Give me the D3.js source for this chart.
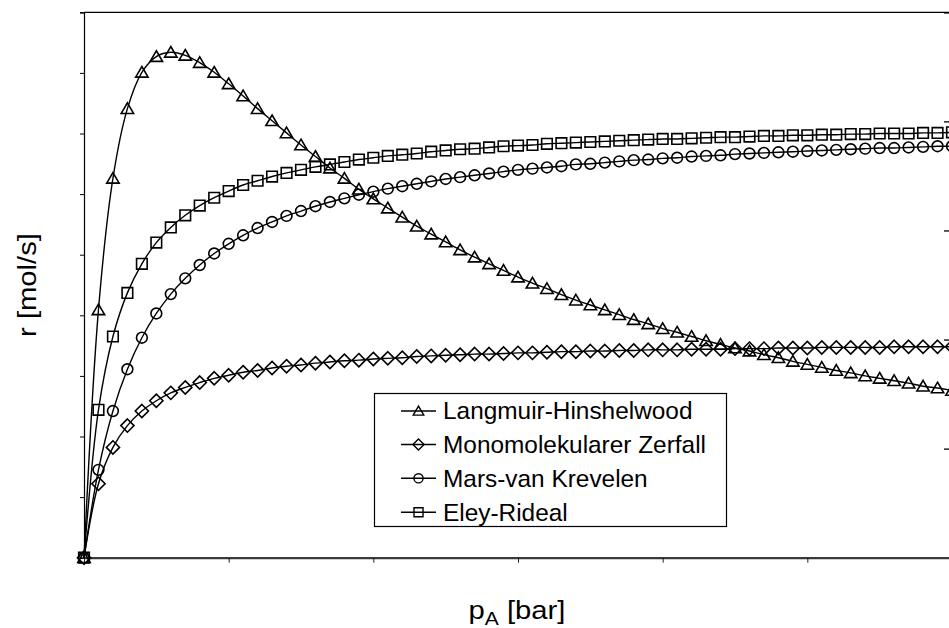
<!DOCTYPE html>
<html><head><meta charset="utf-8">
<script src="https://cdn.jsdelivr.net/npm/d3@7"></script>
<style>html,body{margin:0;padding:0;background:#fff;overflow:hidden}</style>
</head><body><svg id="c" width="949" height="628"></svg>
<script>
const pA = [0,1,2,3,4,5,6,7,8,9,10,11,12,13,14,15,16,17,18,19,20,21,22,23,24,25,26,27,28,29,30,31,32,33,34,35,36,37,38,39,40,41,42,43,44,45,46,47,48,49,50,51,52,53,54,55,56,57,58,59,60];
const langmuirHinshelwood = [0,4.09,6.26,7.41,8.01,8.27,8.34,8.29,8.17,8.01,7.82,7.62,7.41,7.21,7.01,6.81,6.62,6.43,6.26,6.08,5.92,5.77,5.62,5.47,5.34,5.21,5.08,4.96,4.85,4.74,4.63,4.53,4.44,4.34,4.25,4.17,4.09,4.01,3.93,3.86,3.78,3.72,3.65,3.58,3.52,3.46,3.41,3.35,3.30,3.24,3.19,3.14,3.09,3.05,3.00,2.96,2.92,2.88,2.83,2.80,2.76];
const monomolekularerZerfall = [0,1.22,1.82,2.18,2.42,2.59,2.72,2.81,2.89,2.96,3.01,3.06,3.09,3.13,3.16,3.18,3.21,3.23,3.25,3.26,3.28,3.29,3.30,3.32,3.33,3.34,3.35,3.36,3.36,3.37,3.38,3.38,3.39,3.40,3.40,3.41,3.41,3.42,3.42,3.43,3.43,3.43,3.44,3.44,3.44,3.45,3.45,3.45,3.46,3.46,3.46,3.47,3.47,3.47,3.47,3.47,3.48,3.48,3.48,3.48,3.48];
const marsVanKrevelen = [0,1.45,2.42,3.11,3.63,4.03,4.35,4.61,4.83,5.02,5.18,5.32,5.44,5.54,5.64,5.72,5.80,5.87,5.93,5.99,6.04,6.09,6.13,6.17,6.21,6.25,6.28,6.31,6.34,6.37,6.40,6.42,6.44,6.46,6.49,6.50,6.52,6.54,6.56,6.57,6.59,6.60,6.62,6.63,6.64,6.66,6.67,6.68,6.69,6.70,6.71,6.72,6.73,6.74,6.75,6.76,6.76,6.77,6.78,6.79,6.79];
const eleyRideal = [0,2.44,3.65,4.37,4.85,5.20,5.45,5.65,5.81,5.94,6.05,6.15,6.22,6.29,6.35,6.40,6.45,6.49,6.53,6.57,6.60,6.63,6.65,6.67,6.70,6.72,6.74,6.75,6.77,6.79,6.80,6.81,6.83,6.84,6.85,6.86,6.87,6.88,6.89,6.90,6.91,6.91,6.92,6.93,6.94,6.94,6.95,6.96,6.96,6.97,6.97,6.98,6.98,6.99,6.99,7.00,7.00,7.00,7.01,7.01,7.02];
const seriesNames = ["Langmuir-Hinshelwood","Monomolekularer Zerfall","Mars-van Krevelen","Eley-Rideal"];
const seriesMarkers = ["triangle","diamond","circle","square"];
const xTicks = [0,10,20,30,40,50,60];
const yTicks = [0,1,2,3,4,5,6,7,8,9];
const y2Ticks = [0,1,2,3,4,5];
const yTitle = "r [mol/s]";
const xTitleMain = "p", xTitleSub = "A", xTitleRest = " [bar]";

const FONT = "'Liberation Sans', Arial, Helvetica, sans-serif";
const svg = d3.select("#c");
const L = 84, R = 952, T = 12.3, B = 557.7;
const x = d3.scaleLinear().domain([0,60]).range([L,R]);
const y = d3.scaleLinear().domain([0,9]).range([B,T]);
const y2 = d3.scaleLinear().domain([0,5]).range([B,T]);

// top border
svg.append("line").attr("x1",L).attr("x2",R).attr("y1",T).attr("y2",T)
  .attr("stroke","#000").attr("stroke-width",1.2);

// left axis
const gl = svg.append("g").attr("transform",`translate(${L},0)`)
  .call(d3.axisLeft(y).tickValues(yTicks).tickSize(4).tickFormat(""));
gl.select(".domain").attr("stroke","#000").attr("stroke-width",1.2);
gl.selectAll(".tick line").attr("stroke","#000");

// right axis (ticks inward)
const gr = svg.append("g").attr("transform",`translate(${R},0)`)
  .call(d3.axisRight(y2).tickValues(y2Ticks).tickSize(-8).tickFormat(""));
gr.selectAll(".tick line").attr("stroke","#000").attr("stroke-width",1.3);
gr.select(".domain").attr("stroke","#000");

// bottom axis
const gb = svg.append("g").attr("transform",`translate(0,${B})`)
  .call(d3.axisBottom(x).tickValues(xTicks).tickSize(5).tickSizeOuter(0).tickFormat(""));
gb.select(".domain").attr("stroke","#3a3a3a").attr("stroke-width",2.2);
gb.selectAll(".tick line").attr("stroke","#222");

// marker shapes
function markerPath(type, s) {
  const p = d3.path();
  if (type === "triangle") {
    p.moveTo(0,-5.8*s); p.lineTo(6.2*s,4.8*s); p.lineTo(-6.2*s,4.8*s); p.closePath();
  } else if (type === "diamond") {
    p.moveTo(0,-6.6*s); p.lineTo(6.6*s,0); p.lineTo(0,6.6*s); p.lineTo(-6.6*s,0); p.closePath();
  } else if (type === "circle") {
    p.moveTo(5.4*s,0); p.arc(0,0,5.4*s,0,2*Math.PI); p.closePath();
  } else {
    p.rect(-5.3*s,-5.3*s,10.6*s,10.6*s);
  }
  return p.toString();
}

const seriesData = [langmuirHinshelwood, monomolekularerZerfall, marsVanKrevelen, eleyRideal];
const line = d3.line().x(d=>x(d[0])).y(d=>y(d[1])).curve(d3.curveCatmullRom.alpha(0.5));

seriesData.forEach((vals, k) => {
  const pts = pA.map((p,i)=>[p, vals[i]]);
  const g = svg.append("g");
  g.append("path").attr("d", line(pts)).attr("fill","none")
    .attr("stroke","#000").attr("stroke-width",1.4);
  g.selectAll("path.m").data(pts).join("path").attr("class","m")
    .attr("transform", d=>`translate(${x(d[0])},${y(d[1])})`)
    .attr("d", markerPath(seriesMarkers[k],1))
    .attr("fill","none").attr("stroke","#000").attr("stroke-width",1.6);
});

// legend
const lg = svg.append("g");
lg.append("rect").attr("x",374.5).attr("y",393.5).attr("width",352).attr("height",133)
  .attr("fill","#fff").attr("stroke","#000").attr("stroke-width",1.2);
const rowY = [411, 444.5, 478.3, 512.2];
seriesNames.forEach((name,k)=>{
  lg.append("line").attr("x1",401).attr("x2",436).attr("y1",rowY[k]).attr("y2",rowY[k])
    .attr("stroke","#000").attr("stroke-width",1.4);
  lg.append("path").attr("transform",`translate(418.5,${rowY[k]})`)
    .attr("d", markerPath(seriesMarkers[k],0.85)).attr("fill","none")
    .attr("stroke","#000").attr("stroke-width",1.4);
  lg.append("text").attr("x",443).attr("y",rowY[k]+8.3)
    .attr("font-family",FONT).attr("font-size",24.4).attr("fill","#000").text(name);
});

// y title
svg.append("g").attr("transform","translate(36,285) rotate(-90) scale(1.17,1)")
  .append("text").attr("text-anchor","middle").attr("font-family",FONT)
  .attr("font-size",25).attr("fill","#000").text(yTitle);

// x title
const xt = svg.append("g").attr("transform","translate(517,619) scale(1.17,1)")
  .append("text").attr("text-anchor","middle").attr("font-family",FONT)
  .attr("font-size",25).attr("fill","#000");
xt.append("tspan").text(xTitleMain);
xt.append("tspan").attr("font-size",18).attr("dy",6).text(xTitleSub);
xt.append("tspan").attr("dy",-6).text(xTitleRest);
</script></body></html>
